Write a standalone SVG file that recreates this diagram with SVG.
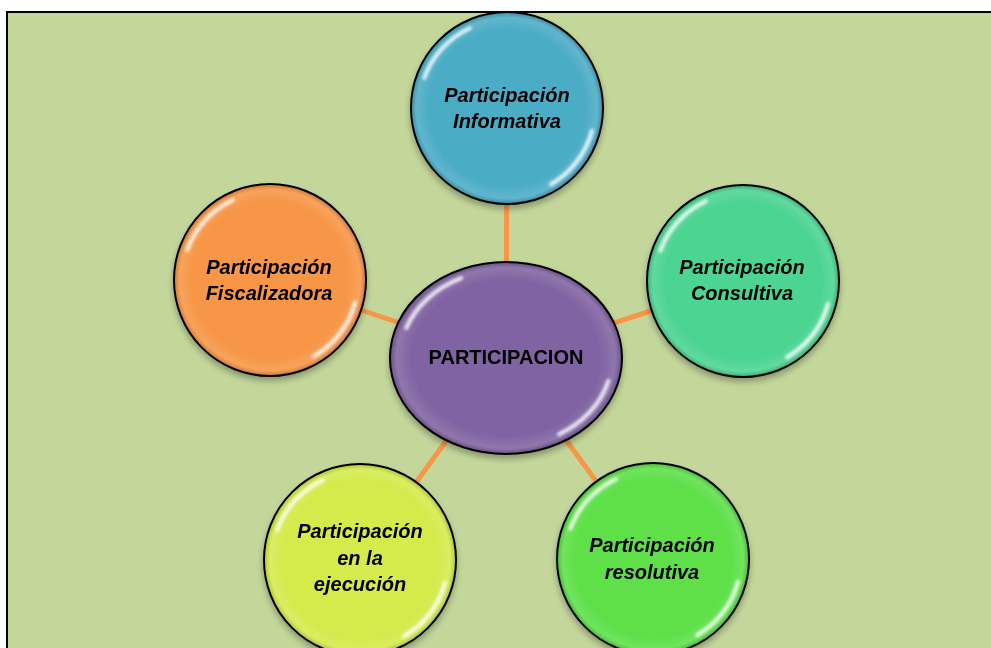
<svg xmlns="http://www.w3.org/2000/svg" width="991" height="648" viewBox="0 0 991 648">
<defs>
<style>
.bub{stroke:#000;stroke-width:2}
.hl{fill:none;stroke:#fff;stroke-width:4;stroke-linecap:round;opacity:0.85}
.lbl{font-family:"Liberation Sans",Arial,sans-serif;font-weight:bold;font-style:italic;font-size:20px;fill:#000;text-anchor:middle}
.conn{stroke:#F79646;stroke-width:5}
</style>
<radialGradient id="shade" cx="0.5" cy="0.5" r="0.5">
<stop offset="0.82" stop-color="#fff" stop-opacity="0"/>
<stop offset="0.95" stop-color="#fff" stop-opacity="0.12"/>
<stop offset="1" stop-color="#000" stop-opacity="0.15"/>
</radialGradient>
<filter id="sh" x="-20%" y="-20%" width="140%" height="150%">
<feGaussianBlur in="SourceAlpha" stdDeviation="3"/>
<feOffset dy="4"/>
<feComponentTransfer><feFuncA type="linear" slope="0.3"/></feComponentTransfer>
<feMerge><feMergeNode/><feMergeNode in="SourceGraphic"/></feMerge>
</filter>
<filter id="soft" x="-20%" y="-20%" width="140%" height="140%">
<feGaussianBlur stdDeviation="1.4"/>
</filter>
<g id="hlc" filter="url(#soft)">
<path class="hl" d="M-82.7 -30.1 A88 88 0 0 1 -37.2 -79.8"/>
<path class="hl" d="M85 22.8 A88 88 0 0 1 44 76.2"/>
</g>
</defs>
<rect x="0" y="0" width="991" height="648" fill="#fff"/>
<rect x="7" y="12" width="1000" height="660" fill="#C4D79B" stroke="#000" stroke-width="2"/>
<g id="connectors">
<line class="conn" x1="506" y1="358" x2="507" y2="108"/>
<line class="conn" x1="506" y1="358" x2="743" y2="281"/>
<line class="conn" x1="506" y1="358" x2="270" y2="280"/>
<line class="conn" x1="506" y1="358" x2="360" y2="560"/>
<line class="conn" x1="506" y1="358" x2="653" y2="559"/>
</g>
<g id="node-informativa" filter="url(#sh)">
<circle class="bub" cx="507" cy="108" r="96" fill="#4BACC6"/>
<circle cx="507" cy="108" r="95" fill="url(#shade)"/>
<use href="#hlc" x="507" y="108"/>
<text class="lbl" x="507" y="102">Participación</text>
<text class="lbl" x="507" y="128">Informativa</text>
</g>
<g id="node-consultiva" filter="url(#sh)">
<circle class="bub" cx="743" cy="281" r="96" fill="#4BD492"/>
<circle cx="743" cy="281" r="95" fill="url(#shade)"/>
<use href="#hlc" x="743" y="281"/>
<text class="lbl" x="742" y="274">Participación</text>
<text class="lbl" x="742" y="300">Consultiva</text>
</g>
<g id="node-fiscalizadora" filter="url(#sh)">
<circle class="bub" cx="270" cy="280" r="96" fill="#F79646"/>
<circle cx="270" cy="280" r="95" fill="url(#shade)"/>
<use href="#hlc" x="270" y="280"/>
<text class="lbl" x="269" y="274">Participación</text>
<text class="lbl" x="269" y="300">Fiscalizadora</text>
</g>
<g id="node-ejecucion" filter="url(#sh)">
<circle class="bub" cx="360" cy="560" r="96" fill="#D4EB4C"/>
<circle cx="360" cy="560" r="95" fill="url(#shade)"/>
<use href="#hlc" x="360" y="560"/>
<text class="lbl" x="360" y="538">Participación</text>
<text class="lbl" x="360" y="565">en la</text>
<text class="lbl" x="360" y="591">ejecución</text>
</g>
<g id="node-resolutiva" filter="url(#sh)">
<circle class="bub" cx="653" cy="559" r="96" fill="#5EE04A"/>
<circle cx="653" cy="559" r="95" fill="url(#shade)"/>
<use href="#hlc" x="653" y="559"/>
<text class="lbl" x="652" y="552">Participación</text>
<text class="lbl" x="652" y="579">resolutiva</text>
</g>
<g id="node-center" filter="url(#sh)">
<ellipse class="bub" cx="506" cy="358" rx="116" ry="96" fill="#8064A2"/>
<ellipse cx="506" cy="358" rx="115" ry="95" fill="url(#shade)"/>
<g transform="translate(506 358)" filter="url(#soft)">
<path class="hl" d="M-99.6 -30.1 A106 88 0 0 1 -44.8 -79.8"/>
<path class="hl" d="M102.4 22.8 A106 88 0 0 1 53 76.2"/>
</g>
<text x="506" y="364" style="font-family:'Liberation Sans',Arial,sans-serif;font-weight:bold;font-size:20px;text-anchor:middle;fill:#000">PARTICIPACION</text>
</g>
</svg>
